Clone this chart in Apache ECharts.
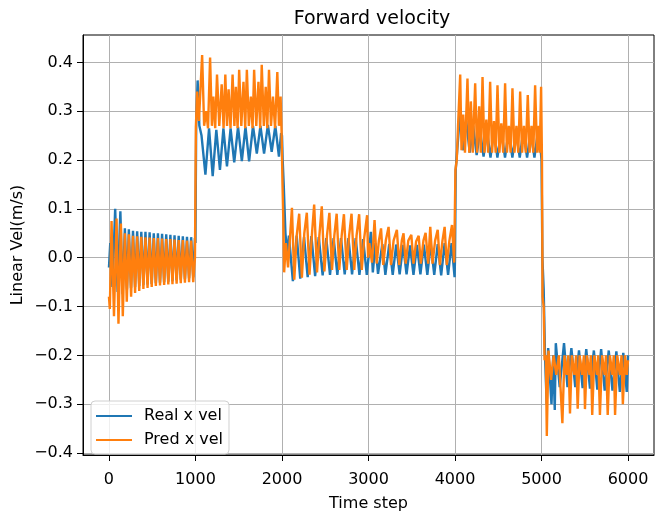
<!DOCTYPE html>
<html>
<head>
<meta charset="utf-8">
<script src="https://cdn.jsdelivr.net/npm/echarts@6.0.0/dist/echarts.min.js"></script>
<style>
  html, body { margin: 0; padding: 0; background: #fff; }
  #chart { width: 655px; height: 517px; }
</style>
</head>
<body>
<div id="chart"></div>
<script>
// axis labels / ticks
const xTicks = [0, 1000, 2000, 3000, 4000, 5000, 6000];
const yTicks = [-0.4, -0.3, -0.2, -0.1, 0.0, 0.1, 0.2, 0.3, 0.4];
const seriesNames = ["Real x vel", "Pred x vel"];

// Real x vel: [time step, m/s]
const real0 = [[0,-0.02],[15,0.03],[40,-0.06],[72,0.1],[100,-0.07],[132,0.095],[158,-0.075],[184,0.06],[208,-0.065],[230,0.058],[255,-0.062],[278,0.055],[302,-0.06],[326,0.054],[350,-0.058],[374,0.053],[398,-0.056],[422,0.053],[446,-0.055],[470,0.052],[494,-0.054],[518,0.05],[542,-0.052],[566,0.05],[590,-0.051],[614,0.049],[638,-0.05],[662,0.048],[686,-0.049],[710,0.047],[734,-0.048],[758,0.046],[782,-0.046],[806,0.045],[830,-0.045],[854,0.044],[878,-0.044],[902,0.043],[926,-0.042],[950,0.042],[974,-0.04],[994,0.04]];
const real1 = [[1000,0.03],[1008,0.27],[1025,0.363],[1045,0.27],[1070,0.25],[1115,0.17],[1157,0.265],[1199,0.167],[1241,0.262],[1283,0.18],[1323,0.265],[1364,0.187],[1406,0.265],[1448,0.195],[1492,0.268],[1536,0.198],[1578,0.268],[1620,0.197],[1665,0.27],[1709,0.213],[1751,0.27],[1793,0.213],[1837,0.272],[1881,0.217],[1923,0.27],[1965,0.207],[1990,0.255]];
const real2 = [[2000,0.25],[2008,0.2],[2020,0.15],[2040,0.05],[2060,0.01],[2080,0.045],[2126,-0.048],[2170,0.045],[2211,-0.043],[2255,0.042],[2297,-0.04],[2340,0.044],[2383,-0.038],[2425,0.042],[2470,-0.036],[2512,0.04],[2555,-0.035],[2597,0.04],[2640,-0.035],[2682,0.04],[2725,-0.034],[2768,0.04],[2810,-0.034],[2852,0.04],[2895,-0.035],[2938,0.038],[2980,-0.035]];
const real3 = [[3000,0.0],[3027,0.053],[3050,-0.03],[3080,0.03],[3110,-0.033],[3160,0.028],[3195,-0.035],[3240,0.028],[3280,-0.035],[3320,0.027],[3360,-0.034],[3400,0.026],[3440,-0.034],[3480,0.025],[3520,-0.035],[3560,0.026],[3600,-0.034],[3640,0.027],[3680,-0.035],[3720,0.028],[3760,-0.035],[3800,0.028],[3840,-0.036],[3880,0.03],[3920,-0.035],[3960,0.03],[3995,-0.04]];
const real4 = [[4000,0.0],[4008,0.18],[4030,0.23],[4060,0.3],[4090,0.22],[4130,0.28],[4170,0.215],[4210,0.27],[4250,0.21],[4290,0.26],[4330,0.207],[4370,0.26],[4410,0.205],[4450,0.26],[4490,0.205],[4535,0.26],[4578,0.205],[4620,0.26],[4663,0.205],[4705,0.26],[4748,0.205],[4790,0.26],[4833,0.205],[4875,0.26],[4918,0.205],[4960,0.26],[4990,0.22]];
const real5 = [[5000,0.2],[5010,0.0],[5025,-0.065],[5040,-0.2],[5060,-0.3],[5077,-0.185],[5115,-0.3],[5135,-0.2],[5153,-0.312],[5165,-0.175],[5210,-0.265],[5260,-0.175],[5300,-0.265],[5345,-0.185],[5390,-0.265],[5433,-0.19],[5475,-0.267],[5517,-0.187],[5560,-0.268],[5605,-0.19],[5645,-0.27],[5689,-0.187],[5730,-0.272],[5777,-0.19],[5820,-0.272],[5865,-0.192],[5905,-0.275],[5945,-0.195],[5985,-0.275],[6000,-0.2]];

// Pred x vel
const pred0 = [[0,-0.08],[10,-0.105],[30,0.075],[58,-0.12],[88,0.08],[110,-0.135],[138,0.07],[160,-0.12],[184,0.05],[206,-0.09],[230,0.048],[256,-0.08],[278,0.045],[302,-0.072],[326,0.044],[350,-0.068],[374,0.043],[398,-0.064],[422,0.042],[446,-0.062],[470,0.041],[494,-0.06],[518,0.04],[542,-0.058],[566,0.04],[590,-0.057],[614,0.039],[638,-0.056],[662,0.038],[686,-0.055],[710,0.038],[734,-0.054],[758,0.037],[782,-0.053],[806,0.036],[830,-0.052],[854,0.036],[878,-0.051],[902,0.035],[926,-0.05],[950,0.035],[974,-0.05],[994,0.0]];
const pred1 = [[1000,0.0],[1005,0.27],[1020,0.34],[1040,0.28],[1077,0.415],[1100,0.27],[1125,0.3],[1145,0.265],[1169,0.41],[1190,0.27],[1207,0.33],[1228,0.265],[1249,0.375],[1275,0.27],[1303,0.355],[1325,0.265],[1345,0.375],[1365,0.27],[1383,0.345],[1405,0.265],[1429,0.375],[1450,0.27],[1467,0.35],[1487,0.265],[1505,0.385],[1530,0.27],[1555,0.36],[1575,0.265],[1594,0.385],[1617,0.27],[1640,0.33],[1660,0.265],[1678,0.385],[1703,0.27],[1728,0.36],[1748,0.265],[1766,0.395],[1790,0.27],[1812,0.35],[1830,0.265],[1850,0.385],[1873,0.27],[1896,0.33],[1920,0.265],[1946,0.38],[1965,0.27],[1984,0.33],[1995,0.26]];
const pred2 = [[2000,0.26],[2006,0.15],[2015,0.08],[2025,-0.03],[2045,0.03],[2070,-0.02],[2115,0.102],[2142,-0.045],[2170,0.045],[2199,0.09],[2230,-0.041],[2258,0.05],[2287,0.092],[2318,-0.035],[2345,0.045],[2372,0.109],[2405,-0.03],[2432,0.045],[2460,0.105],[2490,-0.028],[2520,0.045],[2548,0.092],[2578,-0.025],[2605,0.045],[2632,0.09],[2662,-0.025],[2690,0.045],[2716,0.089],[2748,-0.025],[2776,0.045],[2804,0.09],[2835,-0.025],[2862,0.045],[2892,0.089],[2922,-0.025],[2950,0.04],[2984,0.087]];
const pred3 = [[2995,0.0],[3010,0.03],[3040,-0.01],[3070,0.077],[3095,-0.012],[3120,0.035],[3145,0.06],[3170,-0.015],[3200,0.035],[3232,0.063],[3260,-0.015],[3290,0.035],[3328,0.057],[3355,-0.015],[3385,0.035],[3405,0.05],[3430,-0.012],[3460,0.035],[3495,0.047],[3520,-0.012],[3550,0.033],[3580,0.045],[3605,-0.012],[3635,0.035],[3660,0.051],[3690,-0.012],[3714,0.063],[3740,-0.012],[3770,0.035],[3800,0.057],[3825,-0.015],[3855,0.035],[3880,0.063],[3905,-0.015],[3935,0.035],[3965,0.067],[3990,-0.01]];
const pred4 = [[4000,-0.01],[4005,0.18],[4020,0.2],[4035,0.27],[4060,0.375],[4075,0.22],[4095,0.293],[4115,0.215],[4144,0.367],[4165,0.215],[4183,0.32],[4205,0.215],[4233,0.357],[4255,0.215],[4279,0.31],[4298,0.215],[4318,0.37],[4340,0.215],[4362,0.283],[4383,0.215],[4406,0.36],[4428,0.215],[4450,0.28],[4470,0.215],[4491,0.353],[4513,0.215],[4535,0.275],[4557,0.215],[4579,0.357],[4600,0.215],[4622,0.27],[4643,0.215],[4664,0.347],[4687,0.215],[4710,0.27],[4731,0.215],[4753,0.34],[4775,0.215],[4797,0.27],[4818,0.215],[4841,0.333],[4862,0.215],[4884,0.27],[4905,0.215],[4926,0.353],[4948,0.215],[4968,0.27],[4980,0.215],[4995,0.35],[5005,0.2]];
const pred5 = [[5012,-0.08],[5025,-0.1],[5035,-0.21],[5050,-0.2],[5061,-0.365],[5080,-0.19],[5110,-0.25],[5140,-0.2],[5170,-0.24],[5200,-0.2],[5241,-0.339],[5265,-0.2],[5290,-0.24],[5310,-0.2],[5329,-0.319],[5350,-0.2],[5380,-0.24],[5400,-0.2],[5418,-0.309],[5440,-0.2],[5470,-0.24],[5490,-0.2],[5502,-0.31],[5525,-0.2],[5555,-0.24],[5570,-0.2],[5586,-0.322],[5610,-0.2],[5640,-0.24],[5655,-0.2],[5675,-0.322],[5700,-0.2],[5730,-0.24],[5745,-0.2],[5765,-0.322],[5790,-0.2],[5820,-0.24],[5835,-0.2],[5850,-0.322],[5875,-0.2],[5905,-0.24],[5925,-0.2],[5940,-0.3],[5965,-0.2],[5985,-0.24],[6000,-0.21]];

const realVel = [].concat(real0, real1, real2, real3, real4, real5);
const predVel = [].concat(pred0, pred1, pred2, pred3, pred4, pred5);

const font = "DejaVu Sans";
const chart = echarts.init(document.getElementById("chart"), null, { renderer: "canvas" });

chart.setOption({
  animation: false,
  backgroundColor: "#fff",
  graphic: [{
    type: "text",
    x: 372, y: 19,
    style: { text: "Forward velocity", font: "19px " + font, fill: "#000", textAlign: "center", textVerticalAlign: "middle" }
  }],
  grid: {
    left: 83, right: 1, top: 35, bottom: 54,
    show: true, borderColor: "#000", borderWidth: 1, backgroundColor: "transparent"
  },
  legend: {
    orient: "vertical",
    left: 91, top: 401,
    data: seriesNames,
    icon: "rect",
    itemWidth: 36, itemHeight: 2,
    itemGap: 8,
    padding: [7, 6, 6, 5],
    backgroundColor: "rgba(255,255,255,0.8)",
    borderColor: "#d0d0d0", borderWidth: 1, borderRadius: 4,
    textStyle: { fontFamily: font, fontSize: 16, color: "#000", padding: [0, 0, 0, 7] }
  },
  xAxis: {
    type: "value",
    min: -300, max: 6300,
    splitNumber: 7,
    name: "Time step", nameLocation: "middle", nameGap: 41,
    nameTextStyle: { fontFamily: font, fontSize: 16, color: "#000" },
    axisLine: { show: true, onZero: false, lineStyle: { color: "#000", width: 1 } },
    axisTick: { show: true, length: 6, lineStyle: { color: "#000" }, customValues: xTicks },
    axisLabel: { fontFamily: font, fontSize: 16, color: "#000", margin: 17, customValues: xTicks,
      formatter: v => String(v) },
    splitLine: { show: true, lineStyle: { color: "#b0b0b0", width: 1 } }
  },
  yAxis: {
    type: "value",
    min: -0.404, max: 0.456,
    splitNumber: 8,
    name: "Linear Vel(m/s)", nameLocation: "middle", nameGap: 57, nameRotate: 90,
    nameMoveOverlap: false,
    nameTextStyle: { fontFamily: font, fontSize: 16, color: "#000" },
    axisLine: { show: true, onZero: false, lineStyle: { color: "#000", width: 1 } },
    axisTick: { show: true, length: 6, lineStyle: { color: "#000" }, customValues: yTicks },
    axisLabel: { fontFamily: font, fontSize: 16, color: "#000", margin: 10, customValues: yTicks,
      formatter: v => v.toFixed(1).replace("-", "\u2212") },
    splitLine: { show: true, lineStyle: { color: "#b0b0b0", width: 1 } }
  },
  series: [
    {
      name: seriesNames[0], type: "line", data: realVel,
      showSymbol: false, symbol: "none",
      lineStyle: { color: "#1f77b4", width: 2.4 },
      itemStyle: { color: "#1f77b4" }
    },
    {
      name: seriesNames[1], type: "line", data: predVel,
      showSymbol: false, symbol: "none",
      lineStyle: { color: "#ff7f0e", width: 2.4 },
      itemStyle: { color: "#ff7f0e" }
    }
  ]
});
</script>
</body>
</html>
